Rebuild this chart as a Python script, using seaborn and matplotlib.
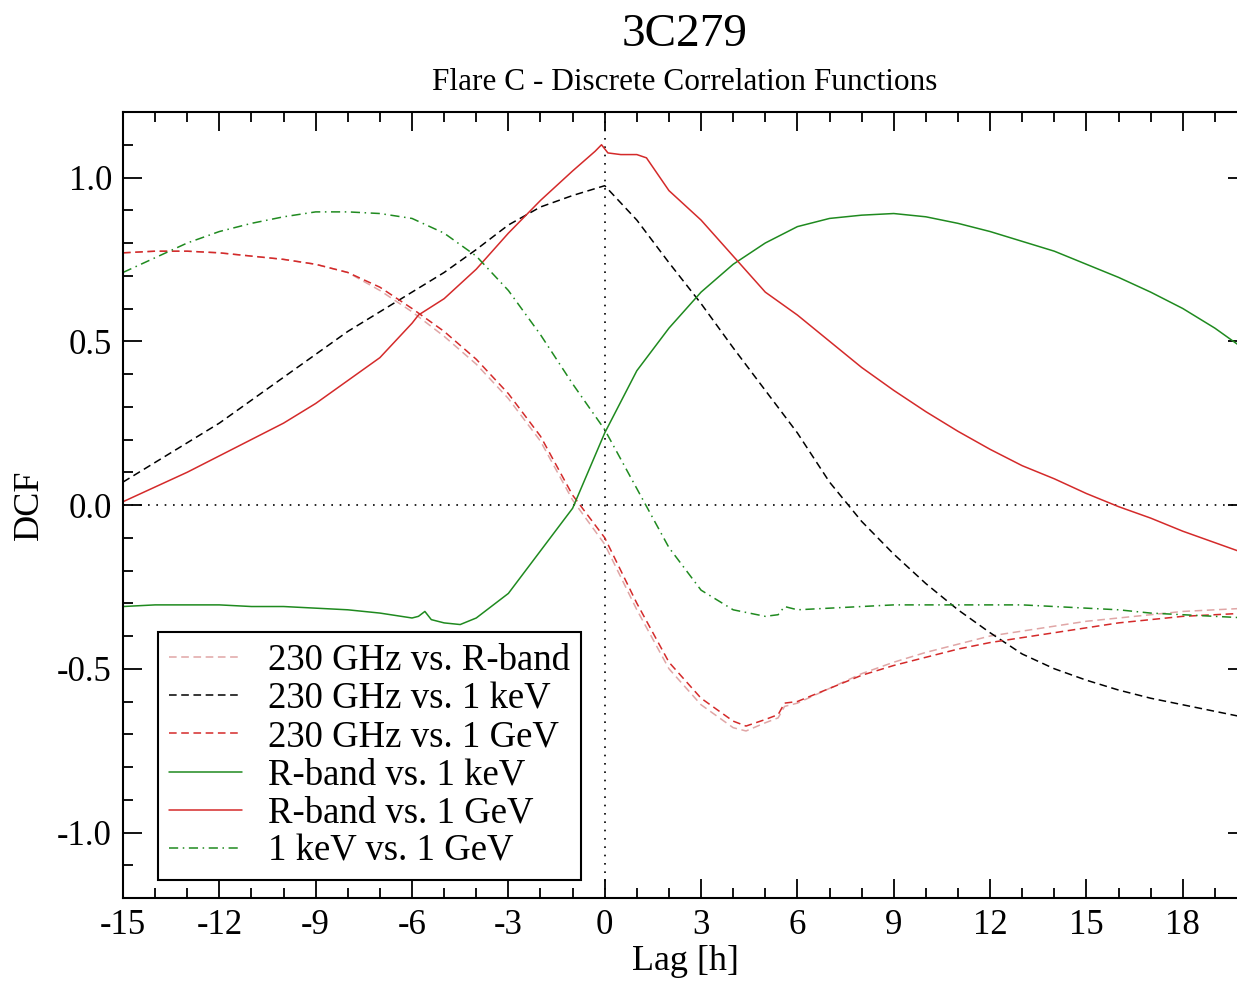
import numpy as np
import pandas as pd
import seaborn as sns
import matplotlib.pyplot as plt
from matplotlib.ticker import MultipleLocator, FormatStrFormatter

# lag grid (hours) shared by the smooth parts of the curves
lag = list(range(-15, 21))

# 230 GHz vs. R-band (light dashed)
lag_mm_r = lag[:20] + [4.4, 5, 5.4, 5.6] + lag[21:]
dcf_mm_r = [0.77, 0.775, 0.775, 0.77, 0.76, 0.75, 0.735, 0.71, 0.655, 0.59,
            0.515, 0.43, 0.325, 0.195, 0.015, -0.12, -0.32, -0.50, -0.61, -0.68,
            -0.69, -0.665, -0.65, -0.615,
            -0.605, -0.56, -0.515, -0.48, -0.45, -0.425, -0.40, -0.385, -0.37,
            -0.355, -0.345, -0.335, -0.325, -0.32, -0.315]

# 230 GHz vs. 1 keV (black dashed)
dcf_mm_x = [0.07, 0.13, 0.19, 0.25, 0.32, 0.39, 0.46, 0.53, 0.59, 0.65,
            0.71, 0.78, 0.855, 0.91, 0.945, 0.975, 0.87, 0.74, 0.615, 0.48,
            0.35, 0.22, 0.07, -0.05, -0.15, -0.24, -0.32, -0.39, -0.455, -0.50,
            -0.535, -0.565, -0.59, -0.61, -0.63, -0.65]

# 230 GHz vs. 1 GeV (red dashed)
lag_mm_g = lag_mm_r
dcf_mm_g = [0.77, 0.775, 0.775, 0.77, 0.76, 0.75, 0.735, 0.71, 0.665, 0.60,
            0.53, 0.445, 0.34, 0.21, 0.03, -0.10, -0.30, -0.48, -0.59, -0.66,
            -0.675, -0.655, -0.64, -0.605,
            -0.60, -0.56, -0.52, -0.49, -0.465, -0.44, -0.42, -0.405, -0.39,
            -0.375, -0.36, -0.35, -0.34, -0.335, -0.33]

# R-band vs. 1 keV (green solid)
lag_r_x = lag[:9] + [-6, -5.8, -5.6, -5.4, -5, -4.5] + lag[11:]
dcf_r_x = [-0.31, -0.305, -0.305, -0.305, -0.31, -0.31, -0.315, -0.32, -0.33,
           -0.345, -0.34, -0.325, -0.35, -0.36, -0.365,
           -0.345, -0.27, -0.14, -0.01, 0.22, 0.41, 0.54, 0.65, 0.735, 0.80,
           0.85, 0.875, 0.885, 0.89, 0.88, 0.86, 0.835, 0.805, 0.775, 0.735,
           0.695, 0.65, 0.60, 0.54, 0.47]

# R-band vs. 1 GeV (red solid)
lag_r_g = lag[:9] + [-6, -5.8, -5] + lag[11:15] + [-0.3, -0.1, 0.1, 0.5, 1, 1.3] + lag[17:]
dcf_r_g = [0.01, 0.055, 0.10, 0.15, 0.20, 0.25, 0.31, 0.38, 0.45,
           0.555, 0.58, 0.63,
           0.72, 0.83, 0.93, 1.02,
           1.08, 1.10, 1.075, 1.07, 1.07, 1.06,
           0.96, 0.87, 0.76, 0.65, 0.58, 0.50, 0.42, 0.35, 0.285, 0.225,
           0.17, 0.12, 0.08, 0.035, -0.005, -0.04, -0.08, -0.115, -0.15]

# 1 keV vs. 1 GeV (green dash-dot)
lag_x_g = lag[:20] + [5, 5.4, 5.6] + lag[21:]
dcf_x_g = [0.71, 0.755, 0.80, 0.835, 0.86, 0.88, 0.895, 0.895, 0.89, 0.875,
           0.83, 0.76, 0.655, 0.52, 0.37, 0.23, 0.05, -0.13, -0.26, -0.32,
           -0.34, -0.335, -0.31,
           -0.32, -0.315, -0.31, -0.305, -0.305, -0.305, -0.305, -0.305, -0.31,
           -0.315, -0.32, -0.33, -0.335, -0.34, -0.345]

series = [
    ("230 GHz vs. R-band", lag_mm_r, dcf_mm_r, "#e0a6a6", (0, (5, 3))),
    ("230 GHz vs. 1 keV", lag, dcf_mm_x, "black", (0, (5, 3))),
    ("230 GHz vs. 1 GeV", lag_mm_g, dcf_mm_g, "#d42a2a", (0, (5, 3))),
    ("R-band vs. 1 keV", lag_r_x, dcf_r_x, "#1f8a1f", "-"),
    ("R-band vs. 1 GeV", lag_r_g, dcf_r_g, "#d42a2a", "-"),
    ("1 keV vs. 1 GeV", lag_x_g, dcf_x_g, "#1f8a1f", (0, (6, 3, 1, 3))),
]

sns.set_theme(style="ticks")
plt.rcParams['font.family'] = ['Liberation Serif', 'DejaVu Serif']
plt.rcParams['axes.unicode_minus'] = False
plt.rcParams['text.color'] = 'black'
plt.rcParams['axes.labelcolor'] = 'black'
plt.rcParams['xtick.color'] = 'black'
plt.rcParams['ytick.color'] = 'black'

fig = plt.figure(figsize=(12.37, 9.84), dpi=100)
ax = fig.add_axes([123 / 1237, 86 / 984, 1124 / 1237, 786 / 984])

ax.axhline(0, color="black", lw=1.2, ls=(0, (1, 4)), zorder=1)
ax.axvline(0, color="black", lw=1.2, ls=(0, (1, 4)), zorder=1)

for name, x, y, col, ls in series:
    df = pd.DataFrame({"lag": x, "dcf": y})
    sns.lineplot(data=df, x="lag", y="dcf", ax=ax, color=col, lw=1.1,
                 linestyle=ls, label=name)

ax.set_xlim(-15, 20)
ax.set_ylim(-1.2, 1.2)
ax.xaxis.set_major_locator(MultipleLocator(3))
ax.xaxis.set_minor_locator(MultipleLocator(1))
ax.yaxis.set_major_locator(MultipleLocator(0.5))
ax.yaxis.set_minor_locator(MultipleLocator(0.1))
ax.xaxis.set_major_formatter(FormatStrFormatter('%d'))
ax.yaxis.set_major_formatter(FormatStrFormatter('%.1f'))
ax.tick_params(which='both', direction='in', top=True, right=True,
               colors='black', labelsize=25, pad=8)
ax.tick_params(which='major', length=14, width=1.3)
ax.tick_params(which='minor', length=7, width=1.3)
for s in ax.spines.values():
    s.set_linewidth(1.5)
    s.set_color('black')

ax.set_xlabel("Lag [h]", fontsize=26, labelpad=2)
ax.set_ylabel("DCF", fontsize=26, labelpad=8)

leg = ax.legend(loc='lower left', bbox_to_anchor=(0.031, 0.023), borderaxespad=0,
                fontsize=26.5, handlelength=2.0, handletextpad=0.7,
                labelspacing=0.1, borderpad=0.3, fancybox=False, framealpha=1)
leg.get_frame().set_edgecolor('black')
leg.get_frame().set_linewidth(1.5)

fig.text(685 / 1237, 1 - 35 / 984, "3C279", ha='center', va='center', fontsize=34)
fig.text(685 / 1237, 1 - 82 / 984, "Flare C - Discrete Correlation Functions",
         ha='center', va='center', fontsize=22.5)

fig.savefig("out.png", dpi=100)
